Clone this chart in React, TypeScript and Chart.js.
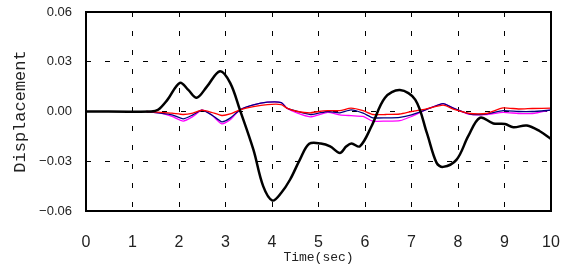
import React, { useEffect, useRef } from "react";
import { Chart, registerables } from "chart.js";

Chart.register(...registerables);

// Black (main response) series
const blackTime = [0, 1.4, 1.55, 1.75, 2.02, 2.2, 2.38, 2.6, 2.88, 3.1, 3.31, 3.6, 3.81, 4.01, 4.2, 4.39, 4.6, 4.8, 5.05, 5.25, 5.46, 5.6, 5.71, 5.89, 6.14, 6.43, 6.75, 7.08, 7.33, 7.54, 7.68, 7.97, 8.22, 8.47, 8.76, 9.01, 9.19, 9.48, 9.76, 10];
const blackValues = [0, 0, 0.001, 0.007, 0.0173, 0.013, 0.0083, 0.015, 0.0243, 0.0173, 0.001, -0.023, -0.045, -0.0537, -0.049, -0.041, -0.029, -0.0195, -0.0193, -0.021, -0.025, -0.021, -0.0193, -0.021, -0.0089, 0.0083, 0.0129, 0.0072, -0.0129, -0.031, -0.0334, -0.029, -0.0149, -0.0038, -0.0072, -0.0075, -0.0095, -0.0085, -0.0119, -0.0165];

// Thin series share a time base
const thinTime = [1.3, 1.6, 1.85, 2.09, 2.3, 2.49, 2.7, 2.92, 3.1, 3.31, 3.6, 3.9, 4.2, 4.32, 4.55, 4.82, 5.0, 5.2, 5.46, 5.7, 5.96, 6.17, 6.45, 6.75, 7.0, 7.3, 7.68, 7.9, 8.26, 8.6, 8.97, 9.3, 9.6, 10];
const magentaValues = [0, -0.001, -0.003, -0.0058, -0.003, 0.0008, -0.002, -0.0075, -0.005, 0.001, 0.004, 0.0056, 0.0054, 0.002, -0.001, -0.0032, -0.002, -0.0005, -0.002, -0.0025, -0.003, -0.0058, -0.0058, -0.0055, -0.003, 0.001, 0.0048, 0.002, -0.0018, -0.0018, -0.0005, -0.0012, -0.0012, 0.001];
const navyValues = [0, -0.001, -0.002, -0.0044, -0.002, 0.0008, -0.002, -0.0062, -0.004, 0.001, 0.004, 0.0056, 0.0054, 0.002, 0, -0.0018, -0.001, 0, -0.0008, 0.001, -0.001, -0.0038, -0.0038, -0.0035, -0.002, 0.001, 0.0048, 0.002, -0.0015, -0.0015, 0.0005, 0, 0, 0.0008];
const redValues = [0, -0.0005, -0.001, -0.0018, -0.001, 0.0008, -0.0005, -0.0024, -0.0015, 0.001, 0.003, 0.0042, 0.0042, 0.002, 0, -0.0008, 0, 0.0005, 0.0005, 0.002, 0.0005, -0.0018, -0.0018, -0.0015, 0, 0.0015, 0.0038, 0.0015, -0.0012, -0.0012, 0.0022, 0.0015, 0.0018, 0.002];

const xTitle = "Time(sec)";
const yTitle = "Displacement";

const pts = (xs: number[], ys: number[]) => xs.map((x, i) => ({ x, y: ys[i] }));

const frame = {
  id: "frame",
  afterDatasetsDraw(chart: any) {
    const { ctx, chartArea } = chart;
    ctx.save();
    ctx.strokeStyle = "#000";
    ctx.lineWidth = 2;
    ctx.setLineDash([]);
    ctx.strokeRect(chartArea.left, chartArea.top, chartArea.right - chartArea.left, chartArea.bottom - chartArea.top);
    ctx.restore();
  },
};

const zeroPad = (s: any) => { s.paddingTop = 0; s.paddingBottom = 0; s.paddingLeft = 0; s.paddingRight = 0; };

export default function App() {
  const ref = useRef<HTMLCanvasElement>(null);
  useEffect(() => {
    document.body.style.margin = "0";
    const chart = new Chart(ref.current!, {
      type: "line",
      data: {
        datasets: [
          { data: pts(blackTime, blackValues), borderColor: "#000000", borderWidth: 2.5, tension: 0.35, pointRadius: 0 },
          { data: pts(thinTime, redValues), borderColor: "#ff0000", borderWidth: 1.3, tension: 0.2, pointRadius: 0 },
          { data: pts(thinTime, navyValues), borderColor: "#000080", borderWidth: 1.3, tension: 0.2, pointRadius: 0 },
          { data: pts(thinTime, magentaValues), borderColor: "#ff00ff", borderWidth: 1.3, tension: 0.2, pointRadius: 0 },
        ],
      },
      options: {
        animation: false,
        responsive: false,
        layout: { padding: { top: 12, right: 16, left: 0, bottom: 0 } },
        plugins: { legend: { display: false }, tooltip: { enabled: false } },
        scales: {
          x: {
            type: "linear",
            min: 0,
            max: 10,
            afterFit: (s: any) => { s.height = 57; zeroPad(s); },
            ticks: { stepSize: 1, padding: 22, color: "#222", font: { family: "Liberation Sans", size: 16 }, maxRotation: 0 },
            grid: { color: "#000", lineWidth: 1, drawTicks: false },
            border: { display: false, dash: [5, 14] },
            title: { display: true, text: xTitle, color: "#222", font: { family: "Liberation Mono", size: 13 }, padding: { top: 0, bottom: 3 } },
          },
          y: {
            min: -0.06,
            max: 0.06,
            afterFit: (s: any) => { s.width = 86; zeroPad(s); },
            ticks: {
              stepSize: 0.03,
              padding: 14,
              color: "#222",
              font: { family: "Liberation Sans", size: 13 },
              callback: (v: any) => { const n = Number(v); return (n < 0 ? "\u2212" : "") + Math.abs(n).toFixed(2); },
            },
            grid: { color: "#000", lineWidth: 1, drawTicks: false },
            border: { display: false, dash: [5, 14] },
            title: { display: true, text: yTitle, color: "#222", font: { family: "Liberation Mono", size: 17 }, padding: { top: 10, bottom: 0 } },
          },
        },
      },
      plugins: [frame],
    });
    return () => chart.destroy();
  }, []);
  return (
    <div style={{ position: "relative", width: 567, height: 268, background: "#fff" }}>
      <canvas ref={ref} width={567} height={268} style={{ display: "block", width: 567, height: 268 }} />
    </div>
  );
}
